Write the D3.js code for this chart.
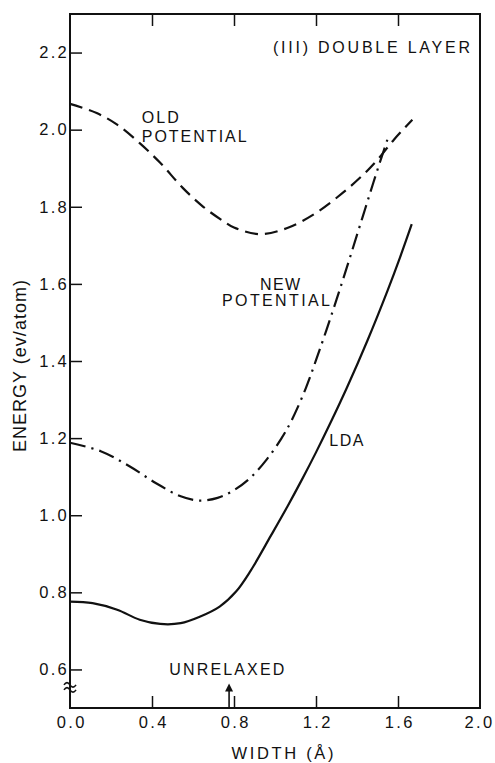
<!DOCTYPE html>
<html>
<head>
<meta charset="utf-8">
<script src="https://cdn.jsdelivr.net/npm/d3@7"></script>
<style>
  body { margin: 0; background: #fff; }
  svg { display: block; font-family: "Liberation Sans", Arial, sans-serif; }
  .tick text { font-size: 16.5px; letter-spacing: 2.3px; fill: #111; }
  .lbl { font-size: 16px; fill: #111; }
</style>
</head>
<body>
<svg width="495" height="763"></svg>
<script>
// width of the double layer (Å) and energy (eV/atom)
var widthTicks = [0.0, 0.4, 0.8, 1.2, 1.6, 2.0];
var energyTicks = [0.6, 0.8, 1.0, 1.2, 1.4, 1.6, 1.8, 2.0, 2.2];

var oldWidth  = [0, 0.13, 0.23, 0.34, 0.44, 0.55, 0.65, 0.75, 0.80, 0.93, 1.06, 1.20, 1.33, 1.43, 1.50, 1.58, 1.67];
var oldEnergy = [2.067, 2.043, 2.013, 1.965, 1.914, 1.849, 1.800, 1.762, 1.746, 1.729, 1.745, 1.784, 1.836, 1.883, 1.922, 1.974, 2.026];

var newWidth  = [0, 0.15, 0.29, 0.42, 0.54, 0.63, 0.72, 0.80, 0.88, 0.96, 1.03, 1.08, 1.15, 1.20, 1.25, 1.30, 1.35, 1.40, 1.44, 1.48, 1.52, 1.55];
var newEnergy = [1.188, 1.166, 1.127, 1.083, 1.049, 1.038, 1.045, 1.065, 1.097, 1.145, 1.198, 1.245, 1.329, 1.402, 1.479, 1.559, 1.642, 1.727, 1.795, 1.863, 1.929, 1.977];

var ldaWidth  = [0, 0.11, 0.23, 0.34, 0.44, 0.54, 0.63, 0.73, 0.81, 0.88, 0.98, 1.06, 1.13, 1.20, 1.27, 1.35, 1.45, 1.55, 1.61, 1.667];
var ldaEnergy = [0.776, 0.772, 0.755, 0.729, 0.718, 0.720, 0.736, 0.763, 0.802, 0.855, 0.947, 1.022, 1.091, 1.163, 1.239, 1.330, 1.452, 1.584, 1.669, 1.755];

var unrelaxedWidth = 0.776;

var W = 495, H = 763;
var margin = {top: 14, right: 15, bottom: 55, left: 70};

var svg = d3.select("svg");

var x = d3.scaleLinear().domain([0, 2.0]).range([margin.left, W - margin.right]);
var y = d3.scaleLinear().domain([0.5, 2.3]).range([H - margin.bottom, margin.top]);

// frame
svg.append("rect")
  .attr("x", x(0)).attr("y", y(2.3))
  .attr("width", x(2.0) - x(0)).attr("height", y(0.5) - y(2.3))
  .attr("fill", "none").attr("stroke", "#111").attr("stroke-width", 2);

// bottom axis, ticks pointing in
var gx = svg.append("g")
  .attr("transform", "translate(0," + y(0.5) + ")")
  .call(d3.axisBottom(x).tickValues(widthTicks).tickFormat(d3.format(".1f"))
    .tickSize(-12).tickSizeOuter(0).tickPadding(8));
gx.select(".domain").remove();
gx.selectAll(".tick text").attr("dx", function (d) { return d === 2.0 ? "-1px" : "1.2px"; });
gx.selectAll(".tick line").attr("stroke", "#111").attr("stroke-width", 1.5)
  .filter(function (d) { return d === 0 || d === 2.0; }).remove();

// top axis, ticks only
var gt = svg.append("g")
  .attr("transform", "translate(0," + y(2.3) + ")")
  .call(d3.axisTop(x).tickValues([0.4, 0.8, 1.2, 1.6]).tickFormat("")
    .tickSize(-12).tickSizeOuter(0));
gt.select(".domain").remove();
gt.selectAll(".tick line").attr("stroke", "#111").attr("stroke-width", 1.5);

// left axis
var gy = svg.append("g")
  .attr("transform", "translate(" + x(0) + ",0)")
  .call(d3.axisLeft(y).tickValues(energyTicks).tickFormat(d3.format(".1f"))
    .tickSize(-12).tickSizeOuter(0).tickPadding(1));
gy.select(".domain").remove();
gy.selectAll(".tick line").attr("stroke", "#111").attr("stroke-width", 1.5);

// axis break mark
var yb = y(0.556);
[-2.5, 2.5].forEach(function (off) {
  svg.append("path")
    .attr("d", "M" + (x(0) - 6) + "," + (yb + off + 1) +
      " c2,-3 4,-3 6,0 s4,3 6,0")
    .attr("fill", "none").attr("stroke", "#111").attr("stroke-width", 1.6);
});

var line = d3.line()
  .x(function (d) { return x(d[0]); })
  .y(function (d) { return y(d[1]); })
  .curve(d3.curveCatmullRom.alpha(0.5));

function pts(a, b) { return a.map(function (v, i) { return [v, b[i]]; }); }

svg.append("path").datum(pts(oldWidth, oldEnergy))
  .attr("d", line).attr("fill", "none").attr("stroke", "#111")
  .attr("stroke-width", 2.2).attr("stroke-dasharray", "13,7");

svg.append("path").datum(pts(newWidth, newEnergy))
  .attr("d", line).attr("fill", "none").attr("stroke", "#111")
  .attr("stroke-width", 2.2).attr("stroke-dasharray", "16,6,2.2,6");

svg.append("path").datum(pts(ldaWidth, ldaEnergy))
  .attr("d", line).attr("fill", "none").attr("stroke", "#111")
  .attr("stroke-width", 2.2);

// unrelaxed arrow
var ux = x(unrelaxedWidth);
svg.append("line")
  .attr("x1", ux).attr("x2", ux).attr("y1", y(0.5)).attr("y2", y(0.5) - 18)
  .attr("stroke", "#111").attr("stroke-width", 1.6);
svg.append("path")
  .attr("d", "M" + ux + "," + (y(0.5) - 24.5) + " l4,8 l-8,0 z")
  .attr("fill", "#111");

// labels
function label(txt, px, py, len, anchor) {
  return svg.append("text").attr("class", "lbl")
    .attr("x", px).attr("y", py)
    .attr("text-anchor", anchor || "start")
    .attr("textLength", len).attr("lengthAdjust", "spacing")
    .text(txt);
}
label("(III) DOUBLE LAYER", 273, 53, 197);
label("OLD", 141.7, 123, 37);
label("POTENTIAL", 141.7, 141.5, 105);
label("NEW", 260, 289.5, 40);
label("POTENTIAL", 222, 305.5, 108);
label("LDA", 329.3, 446, 34);
label("UNRELAXED", 169.3, 675, 115);

svg.append("text").attr("class", "lbl")
  .attr("x", 282.5).attr("y", 758.5)
  .attr("text-anchor", "middle")
  .style("font-size", "16.5px")
  .attr("textLength", 102).attr("lengthAdjust", "spacing")
  .text("WIDTH (Å)");

svg.append("text").attr("class", "lbl")
  .attr("transform", "translate(26,366) rotate(-90)")
  .attr("text-anchor", "middle")
  .style("font-size", "18px")
  .attr("textLength", 172).attr("lengthAdjust", "spacing")
  .text("ENERGY (ev/atom)");
</script>
</body>
</html>
